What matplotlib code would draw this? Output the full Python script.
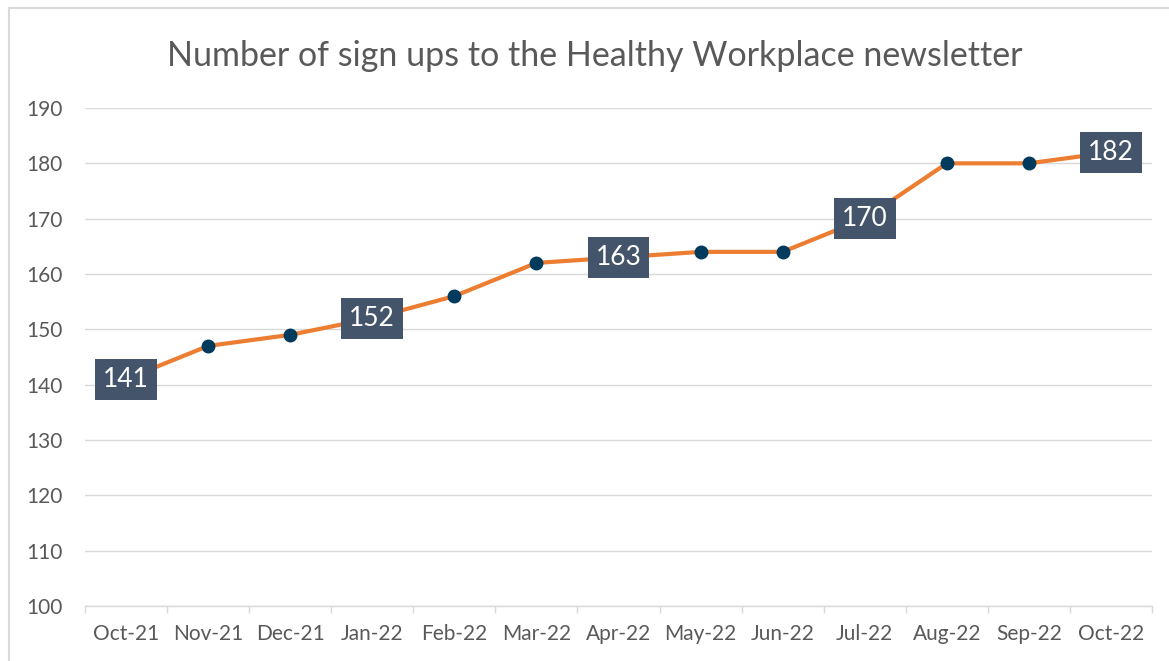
import matplotlib
matplotlib.use("Agg")
import matplotlib.pyplot as plt
from matplotlib.patches import Rectangle
from matplotlib.ticker import FixedLocator

plt.rcParams["font.family"] = ["Lato", "DejaVu Sans"]

# Chart data
months = ["Oct-21", "Nov-21", "Dec-21", "Jan-22", "Feb-22", "Mar-22", "Apr-22",
          "May-22", "Jun-22", "Jul-22", "Aug-22", "Sep-22", "Oct-22"]
sign_ups = [141, 147, 149, 152, 156, 162, 163, 164, 164, 170, 180, 180, 182]
labelled = [0, 3, 6, 9, 12]
y_ticks = [100, 110, 120, 130, 140, 150, 160, 170, 180, 190]

LINE_COLOUR = "#ED7D31"
MARKER_COLOUR = "#003A5D"
LABEL_BOX = "#44546A"
GRID_COLOUR = "#D9D9D9"
TEXT_COLOUR = "#595959"

fig = plt.figure(figsize=(11.69, 6.61), dpi=100)
ax = fig.add_axes([85 / 1169, 1 - 606 / 661, (1152 - 85) / 1169, (606 - 108) / 661])

x = list(range(len(months)))
ax.plot(x, sign_ups, color=LINE_COLOUR, linewidth=3, marker="o",
        markersize=9, markerfacecolor=MARKER_COLOUR,
        markeredgecolor=MARKER_COLOUR, zorder=3)

# Data labels on every third month
for i in labelled:
    ax.text(x[i], sign_ups[i], str(sign_ups[i]), ha="center", va="center",
            fontsize=19, color="white", zorder=5,
            bbox=dict(boxstyle="square,pad=0.3", facecolor=LABEL_BOX,
                      edgecolor="none"))

ax.set_xlim(-0.5, len(months) - 0.5)
ax.set_ylim(100, 190)
ax.set_yticks(y_ticks)
ax.set_xticks(x)
ax.set_xticklabels(months)
ax.xaxis.set_minor_locator(FixedLocator([i - 0.5 for i in range(len(months) + 1)]))

ax.tick_params(axis="x", which="major", length=0, pad=13, labelsize=15,
               labelcolor=TEXT_COLOUR)
ax.tick_params(axis="x", which="minor", length=5, width=1, color=GRID_COLOUR)
ax.tick_params(axis="y", length=0, pad=16, labelsize=15, labelcolor=TEXT_COLOUR)

ax.grid(axis="y", color=GRID_COLOUR, linewidth=1)
ax.set_axisbelow(True)
for side in ["top", "right", "left"]:
    ax.spines[side].set_visible(False)
ax.spines["bottom"].set_color(GRID_COLOUR)
ax.spines["bottom"].set_linewidth(1)

fig.text(595 / 1169, 1 - 66 / 661, "Number of sign ups to the Healthy Workplace newsletter",
         ha="center", va="baseline", fontsize=24.5, color=TEXT_COLOUR)

# Chart area border (cropped at right and bottom)
fig.patches.append(Rectangle((9 / 1169, -0.1), 1.2, 1.1 - 8 / 661,
                             transform=fig.transFigure, fill=False,
                             edgecolor=GRID_COLOUR, linewidth=1.5))

fig.savefig("out.png", dpi=100)
